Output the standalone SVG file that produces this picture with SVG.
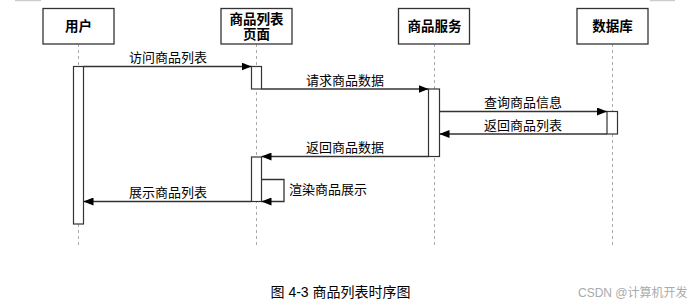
<svg xmlns="http://www.w3.org/2000/svg" width="694" height="306" viewBox="0 0 694 306">
<defs>
<style>
.node{fill:#fff;stroke:#333;stroke-width:1.3}
.nt{font-family:"Liberation Sans","Noto Sans CJK SC",sans-serif;font-size:13.5px;font-weight:bold;fill:#000;text-anchor:middle}
.life{stroke:#aaa;stroke-width:1;stroke-dasharray:3,3;fill:none}
.act{fill:#fff;stroke:#333;stroke-width:1.2}
.msg{stroke:#333;stroke-width:1.3;fill:none;marker-end:url(#ah)}
.ml{font-family:"Liberation Sans","Noto Sans CJK SC",sans-serif;font-size:13px;fill:#000;text-anchor:middle}
.cap{font-family:"Liberation Sans","Noto Sans CJK SC",sans-serif;font-size:14px;fill:#000}
.wm{font-family:"Liberation Sans","Noto Sans CJK SC",sans-serif;font-size:12px;fill:#aaa}
</style>
<marker id="ah" markerWidth="10" markerHeight="8" refX="10" refY="4" orient="auto" markerUnits="userSpaceOnUse">
<path d="M0,0 L10,4 L0,8 Z" fill="#000"/>
</marker>
</defs>
<rect width="694" height="306" fill="#fff"/>
<line x1="15" y1="0.5" x2="41" y2="0.5" stroke="#ccc" stroke-width="1.5"/>
<line x1="650" y1="0.5" x2="675" y2="0.5" stroke="#ccc" stroke-width="1.5"/>
<g id="lifelines">
<line class="life" x1="78.5" y1="44" x2="78.5" y2="246"/>
<line class="life" x1="256.5" y1="44" x2="256.5" y2="246"/>
<line class="life" x1="434.5" y1="44" x2="434.5" y2="246"/>
<line class="life" x1="612.5" y1="44" x2="612.5" y2="246"/>
</g>
<g id="user"><rect class="node" x="43" y="8.5" width="71" height="35.5"/><text class="nt" x="78.5" y="31">用户</text></g>
<g id="page"><rect class="node" x="221" y="8.5" width="71" height="35.5"/><text class="nt" x="256.5" y="23.5">商品列表</text><text class="nt" x="256.5" y="39">页面</text></g>
<g id="service"><rect class="node" x="398.5" y="8.5" width="71" height="35.5"/><text class="nt" x="434.5" y="31">商品服务</text></g>
<g id="db"><rect class="node" x="577" y="8.5" width="71" height="35.5"/><text class="nt" x="612.5" y="31">数据库</text></g>
<g id="activations">
<rect class="act" x="73.5" y="66.5" width="10" height="157.5"/>
<rect class="act" x="251.5" y="66.5" width="10" height="22.5"/>
<rect class="act" x="428.5" y="89" width="11" height="67.5"/>
<rect class="act" x="607" y="111.5" width="10.5" height="22.5"/>
<rect class="act" x="251.5" y="157" width="10" height="44.5"/>
</g>
<g id="connectors">
<line class="msg" x1="83.5" y1="66.5" x2="251.5" y2="66.5"/>
<text class="ml" x="168" y="62">访问商品列表</text>
<line class="msg" x1="261.5" y1="89" x2="428.5" y2="89"/>
<text class="ml" x="345" y="84.5">请求商品数据</text>
<line class="msg" x1="439.5" y1="111.5" x2="607" y2="111.5"/>
<text class="ml" x="523" y="107">查询商品信息</text>
<line class="msg" x1="607" y1="134" x2="439.5" y2="134"/>
<text class="ml" x="523" y="129.5">返回商品列表</text>
<line class="msg" x1="428.5" y1="156.5" x2="261.5" y2="156.5"/>
<text class="ml" x="345" y="152">返回商品数据</text>
<path class="msg" d="M261.5,179.5 H284 V201.5 H261.5"/>
<text class="ml" x="289" y="194" text-anchor="start" style="text-anchor:start">渲染商品展示</text>
<line class="msg" x1="251.5" y1="201.5" x2="83.5" y2="201.5"/>
<text class="ml" x="168" y="197">展示商品列表</text>
</g>
<text class="cap" x="270.5" y="297">图 4-3 商品列表时序图</text>
<text class="wm" x="578" y="297">CSDN @计算机开发</text>
</svg>
